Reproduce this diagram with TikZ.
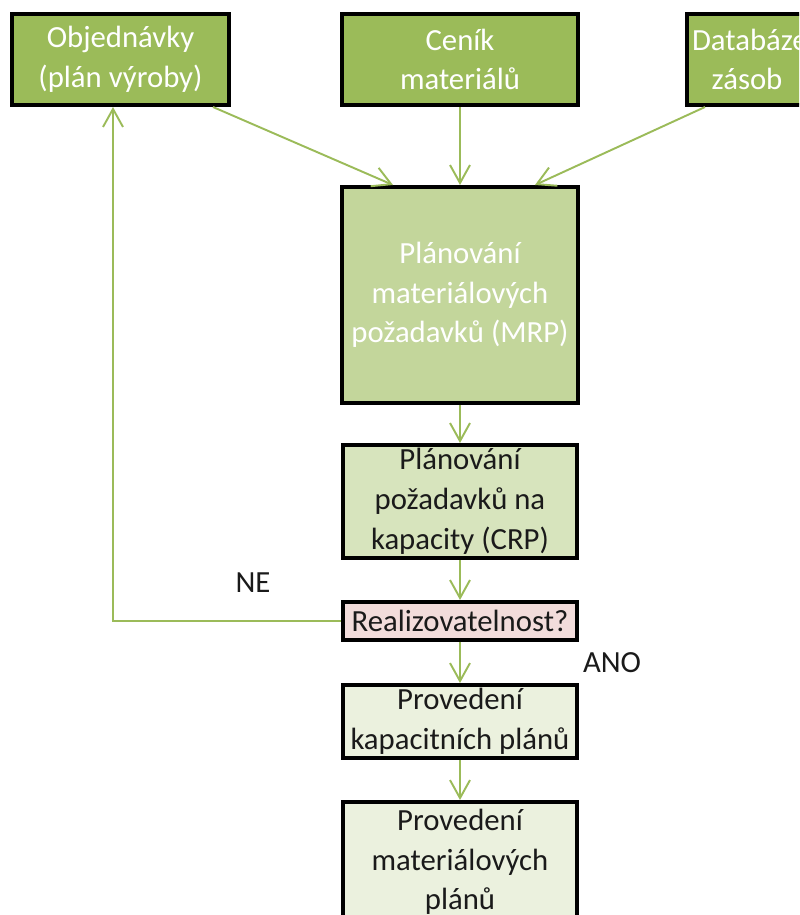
\documentclass[tikz,border=0pt]{standalone}
\usepackage{fontspec}
\setmainfont{Carlito}
\usepackage{tikz}
\usetikzlibrary{arrows.meta, calc, positioning}

\definecolor{olive}{HTML}{9BBB59}
\definecolor{mrpgreen}{HTML}{C3D69B}
\definecolor{crpgreen}{HTML}{D7E4BD}
\definecolor{palegreen}{HTML}{EBF1DE}
\definecolor{palerose}{HTML}{F2DCDB}
\definecolor{ink}{HTML}{1A1A1A}

\begin{document}
\begin{tikzpicture}[x=0.02cm, y=-0.02cm, >={Straight Barb[length=0.36cm, width=0.4cm]},
		font=\fontsize{17.5}{22.6}\selectfont]
	\tikzstyle{box} = [draw=black, line width=2.3pt, rectangle, inner sep=0pt, align=flush center]
	\tikzstyle{source} = [box, fill=olive, text=white, minimum height=1.82cm]
	\tikzstyle{stage} = [box, text=ink, minimum width=4.68cm, text width=4.6cm]
	\tikzstyle{flow} = [->, olive, line width=1.1pt]

	\useasboundingbox (0,0) rectangle (799,915);
	\clip (0,0) rectangle (799,915);

	% vstupy
	\node[source, minimum width=4.34cm, text width=4.2cm] (orders) at (120.5,59.5) {Objednávky\\(plán výroby)};
	\node[source, minimum width=4.72cm, text width=4.6cm] (pricelist) at (460,59.5) {Ceník\\materiálů};
	\node[source, minimum width=2.4cm, text width=2.2cm] (stock) at (747,59.5) {Databáze\\zásob};

	% plánování
	\node[stage, fill=mrpgreen, text=white, minimum width=4.72cm, minimum height=4.32cm, below=1.56cm of pricelist] (mrp)
		{Plánování\\materiálových\\požadavků (MRP)};
	\node[stage, fill=crpgreen, minimum height=2.26cm, below=0.76cm of mrp] (crp)
		{Plánování\\požadavků na\\kapacity (CRP)};
	\node[stage, fill=palerose, minimum height=0.76cm, below=0.8cm of crp] (feasible) {Realizovatelnost?};
	\node[stage, fill=palegreen, minimum height=1.46cm, below=0.82cm of feasible] (capplans)
		{Provedení\\kapacitních plánů};
	\node[stage, fill=palegreen, minimum height=2.4cm, below=0.8cm of capplans] (matplans)
		{Provedení\\materiálových\\plánů};

	\node[text=ink] (no) at (253,583) {NE};
	\node[text=ink] (yes) at (612,663) {ANO};

	\path[flow]
		([xshift=-0.36cm]orders.south east) edge ([xshift=-1.34cm]mrp.north)
		(pricelist.south) edge (mrp.north)
		([xshift=0.4cm]stock.south west) edge ([xshift=1.5cm]mrp.north)
		(mrp.south) edge (crp.north)
		(crp.south) edge (feasible.north)
		(feasible.south) edge (capplans.north)
		(capplans.south) edge (matplans.north)
	;
	\draw[flow] (feasible.west) -| ([xshift=-0.15cm]orders.south);
\end{tikzpicture}
\end{document}
